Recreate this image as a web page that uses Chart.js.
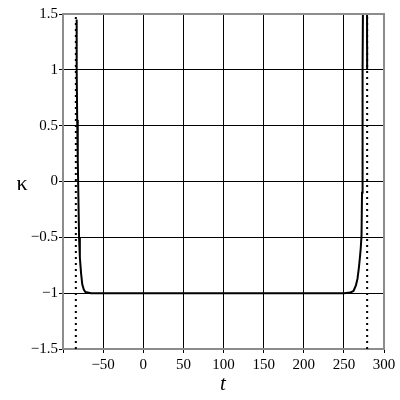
<!DOCTYPE html>
<html>
<head>
<meta charset="utf-8">
<script src="https://cdn.jsdelivr.net/npm/chart.js@4/dist/chart.umd.min.js"></script>
<style>
  html, body { margin: 0; padding: 0; background: #fff; }
  #wrap { width: 400px; height: 400px; }
</style>
</head>
<body>
<div id="wrap"><canvas id="kappaChart" width="400" height="400"></canvas></div>
<script>
// curvature kappa(t)
const tLeft = [-83.4, -83.1, -82.8, -82.3, -81.6, -80.8, -80, -79, -77.5, -76, -74, -72, -65, 0, 100, 200, 250];
const kLeft = [1.0, 1.45, 1.0, 0.55, 0.19, -0.15, -0.5, -0.68, -0.82, -0.92, -0.97, -0.99, -1, -1, -1, -1, -1];
const tRight = [250, 258, 262, 265, 267, 268.75, 270, 271, 272, 272.6, 273.1, 273.5, 273.9];
const kRight = [-1, -0.995, -0.98, -0.93, -0.87, -0.77, -0.68, -0.6, -0.48, -0.1, 0.45, 1.0, 1.7];
const tRight2 = [278.8, 279];
const kRight2 = [1.7, 1.0];
const asymptotes = [-84, 279];
const xTicks = [-100, -50, 0, 50, 100, 150, 200, 250, 300];
const yTicks = [-1.5, -1, -0.5, 0, 0.5, 1, 1.5];

const pts = (xs, ys) => xs.map((x, i) => ({ x: x, y: ys[i] }));
const fmt = (v) => (v < 0 ? '\u2212' + Math.abs(v) : String(v));

const curveStyle = {
  borderColor: '#000',
  borderWidth: 2,
  pointRadius: 0,
  tension: 0,
  fill: false,
};

const datasets = [
  Object.assign({ data: pts(tLeft, kLeft) }, curveStyle),
  Object.assign({ data: pts(tRight, kRight) }, curveStyle),
  Object.assign({ data: pts(tRight2, kRight2) }, curveStyle),
];
asymptotes.forEach(function (a) {
  datasets.push({
    data: [{ x: a, y: -1.5 }, { x: a, y: 1.5 }],
    borderColor: '#000',
    borderWidth: 2,
    borderDash: [2, 4],
    pointRadius: 0,
  });
});

// axis titles and the top/right frame
const frame = {
  id: 'frame',
  afterDraw(chart) {
    const ctx = chart.ctx;
    const a = chart.chartArea;
    ctx.save();
    ctx.strokeStyle = '#8c8c8c';
    ctx.lineWidth = 2;
    ctx.beginPath();
    ctx.moveTo(a.left, a.top);
    ctx.lineTo(a.right, a.top);
    ctx.lineTo(a.right, a.bottom);
    ctx.stroke();
    ctx.fillStyle = '#000';
    ctx.textAlign = 'center';
    ctx.textBaseline = 'middle';
    ctx.font = '22px "Liberation Serif"';
    ctx.fillText('\u03ba', 22, 184);
    ctx.font = 'italic 21px "Liberation Serif"';
    ctx.fillText('t', 223, 384);
    ctx.restore();
  },
};

new Chart(document.getElementById('kappaChart').getContext('2d'), {
  type: 'line',
  data: { datasets },
  options: {
    responsive: false,
    animation: false,
    layout: { padding: { left: 0, right: 16, top: 14, bottom: 0 } },
    plugins: { legend: { display: false }, tooltip: { enabled: false } },
    scales: {
      x: {
        type: 'linear',
        min: -100,
        max: 300,
        afterBuildTicks: (s) => { s.ticks = xTicks.map((v) => ({ value: v })); },
        afterFit: (s) => { s.height = 51; },
        grid: { color: '#000', lineWidth: 1, tickLength: 4, drawTicks: true },
        border: { color: '#8c8c8c', width: 2 },
        ticks: {
          color: '#000',
          font: { family: 'Liberation Serif', size: 15 },
          padding: 3,
          maxRotation: 0,
          callback: (v) => (v === -100 ? '' : fmt(v)),
        },
      },
      y: {
        type: 'linear',
        min: -1.5,
        max: 1.5,
        afterBuildTicks: (s) => { s.ticks = yTicks.map((v) => ({ value: v })); },
        afterFit: (s) => { s.width = 63; },
        grid: { color: '#000', lineWidth: 1, tickLength: 4, drawTicks: true },
        border: { color: '#8c8c8c', width: 2 },
        ticks: {
          color: '#000',
          font: { family: 'Liberation Serif', size: 15 },
          padding: 1,
          callback: (v) => fmt(v),
        },
      },
    },
  },
  plugins: [frame],
});
</script>
</body>
</html>
